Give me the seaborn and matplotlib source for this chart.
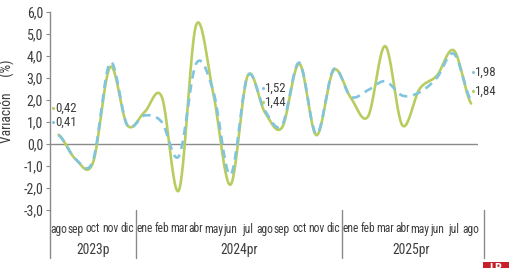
import numpy as np
import pandas as pd
import matplotlib
matplotlib.use("Agg")
import matplotlib.pyplot as plt
import matplotlib.transforms as mtransforms
from matplotlib.patches import Rectangle
import seaborn as sns

# ---------------- data ----------------
meses = ["ago", "sep", "oct", "nov", "dic",
         "ene", "feb", "mar", "abr", "may", "jun", "jul", "ago", "sep", "oct", "nov", "dic",
         "ene", "feb", "mar", "abr", "may", "jun", "jul", "ago"]
anios = ["2023p", "2024pr", "2025pr"]
meses_por_anio = [5, 12, 8]

serie_verde = [0.42, -0.70, -0.85, 3.50, 0.85,
               1.45, 2.15, -2.10, 5.40, 2.30, -1.85, 3.10, 1.44, 0.75, 3.65, 0.40, 3.35,
               2.10, 1.25, 4.45, 0.85, 2.50, 3.10, 4.25, 1.84]
serie_azul = [0.41, -0.70, -0.75, 3.70, 0.85,
              1.30, 1.00, -0.55, 3.65, 2.40, -1.40, 3.10, 1.52, 0.85, 3.70, 0.45, 3.40,
              2.15, 2.45, 2.85, 2.20, 2.35, 3.00, 4.10, 1.98]

y_ticks = [-3, -2, -1, 0, 1, 2, 3, 4, 5, 6]

VERDE = "#b7cd60"
AZUL = "#80c4de"
GRIS = "#8a8a8a"
TEXTO = "#3c3c3c"


def suavizar(vals, n=24):
    """Catmull-Rom smoothing (like spreadsheet 'smoothed line')."""
    y = np.asarray(vals, dtype=float)
    k = len(y)
    m = np.zeros(k)
    m[1:-1] = (y[2:] - y[:-2]) / 2.0
    m[0] = (y[1] - y[0]) / 2.0
    m[-1] = (y[-1] - y[-2]) / 2.0
    xs, ys = [], []
    for i in range(k - 1):
        t = np.linspace(0, 1, n, endpoint=(i == k - 2))
        h00 = 2 * t**3 - 3 * t**2 + 1
        h10 = t**3 - 2 * t**2 + t
        h01 = -2 * t**3 + 3 * t**2
        h11 = t**3 - t**2
        xs.append(i + t)
        ys.append(h00 * y[i] + h10 * m[i] + h01 * y[i + 1] + h11 * m[i + 1])
    return np.concatenate(xs), np.concatenate(ys)


sns.set_theme(style="white")
plt.rcParams["font.family"] = ["Roboto Condensed", "Open Sans Condensed", "Liberation Sans Narrow",
                               "DejaVu Sans"]
plt.rcParams["font.stretch"] = "condensed"

fig = plt.figure(figsize=(5.10, 2.68), dpi=100)
ax = fig.add_axes([50 / 510, 1 - 210 / 268, (478 - 50) / 510, (210 - 12) / 268])

xv, yv = suavizar(serie_verde)
xa, ya = suavizar(serie_azul)
df_v = pd.DataFrame({"x": xv, "y": yv})
df_a = pd.DataFrame({"x": xa, "y": ya})

ax.axhline(0, color=GRIS, lw=1.0, zorder=1)
sns.lineplot(data=df_v, x="x", y="y", ax=ax, color=VERDE, lw=1.9, sort=False, zorder=3)
sns.lineplot(data=df_a, x="x", y="y", ax=ax, color=AZUL, lw=1.9, sort=False, zorder=4,
             dashes=False, linestyle=(0, (3.2, 2.2)))

ax.set_xlim(-0.5, 24.4)
ax.set_ylim(-3, 6)
ax.set_yticks(y_ticks)
ax.set_yticklabels([f"{v:.1f}".replace(".", ",") for v in y_ticks], fontsize=10, color=TEXTO)
ax.set_xticks(range(len(meses)))
ax.set_xticklabels(meses, fontsize=8.3, color=TEXTO)
ax.tick_params(axis="x", length=0, pad=9)
ax.tick_params(axis="y", length=3, width=0.8, color=GRIS, pad=2, left=True)
ax.set_xlabel("")
ax.set_ylabel("Variación     (%)", fontsize=9.8, color=TEXTO)
ax.yaxis.set_label_coords(-35 / 428, 0.55)

for s in ["top", "right", "bottom"]:
    ax.spines[s].set_visible(False)
ax.spines["left"].set_color(GRIS)
ax.spines["left"].set_linewidth(1.0)

# category separators below the axis
trans = mtransforms.blended_transform_factory(ax.transData, ax.transAxes)
bottom_ext = -48 / 198
seps = [-0.5]
acc = -0.5
for c in meses_por_anio:
    acc += c
    seps.append(acc)
seps[-1] = 24.75
for s in seps:
    ax.plot([s, s], [0, bottom_ext], transform=trans, color=GRIS, lw=1.0, clip_on=False)

# year labels
start = -0.5
for name, c in zip(anios, meses_por_anio):
    ax.text(start + c / 2, -40 / 198, name, transform=trans, ha="center", va="center",
            fontsize=9.8, color=TEXTO)
    start += c


# value annotations
def fmt(v):
    return f"{v:.2f}".replace(".", ",")


def etiqueta(xd, yd, txt, col):
    ax.plot([xd], [yd], marker="o", ms=2.2, color=col, mec="none", clip_on=False, zorder=5)
    ax.text(xd + 0.12, yd, txt, ha="left", va="center", fontsize=9.3, color=TEXTO, clip_on=False)


etiqueta(-0.33, 1.64, fmt(serie_verde[0]), VERDE)
etiqueta(-0.33, 1.00, fmt(serie_azul[0]), AZUL)
etiqueta(11.88, 2.55, fmt(serie_azul[12]), AZUL)
etiqueta(11.88, 1.90, fmt(serie_verde[12]), VERDE)
etiqueta(24.1, 3.27, fmt(serie_azul[-1]), AZUL)
etiqueta(24.1, 2.40, fmt(serie_verde[-1]), VERDE)

# logo corner
fig.patches.append(Rectangle((483 / 510, 0), 27 / 510, 6 / 268, transform=fig.transFigure,
                             facecolor="#c8202a", edgecolor="none"))
fig.text(496 / 510, 6 / 268, "LR", ha="center", va="top", fontsize=9, color="white",
         fontweight="bold")

fig.savefig("out.png", dpi=100)
